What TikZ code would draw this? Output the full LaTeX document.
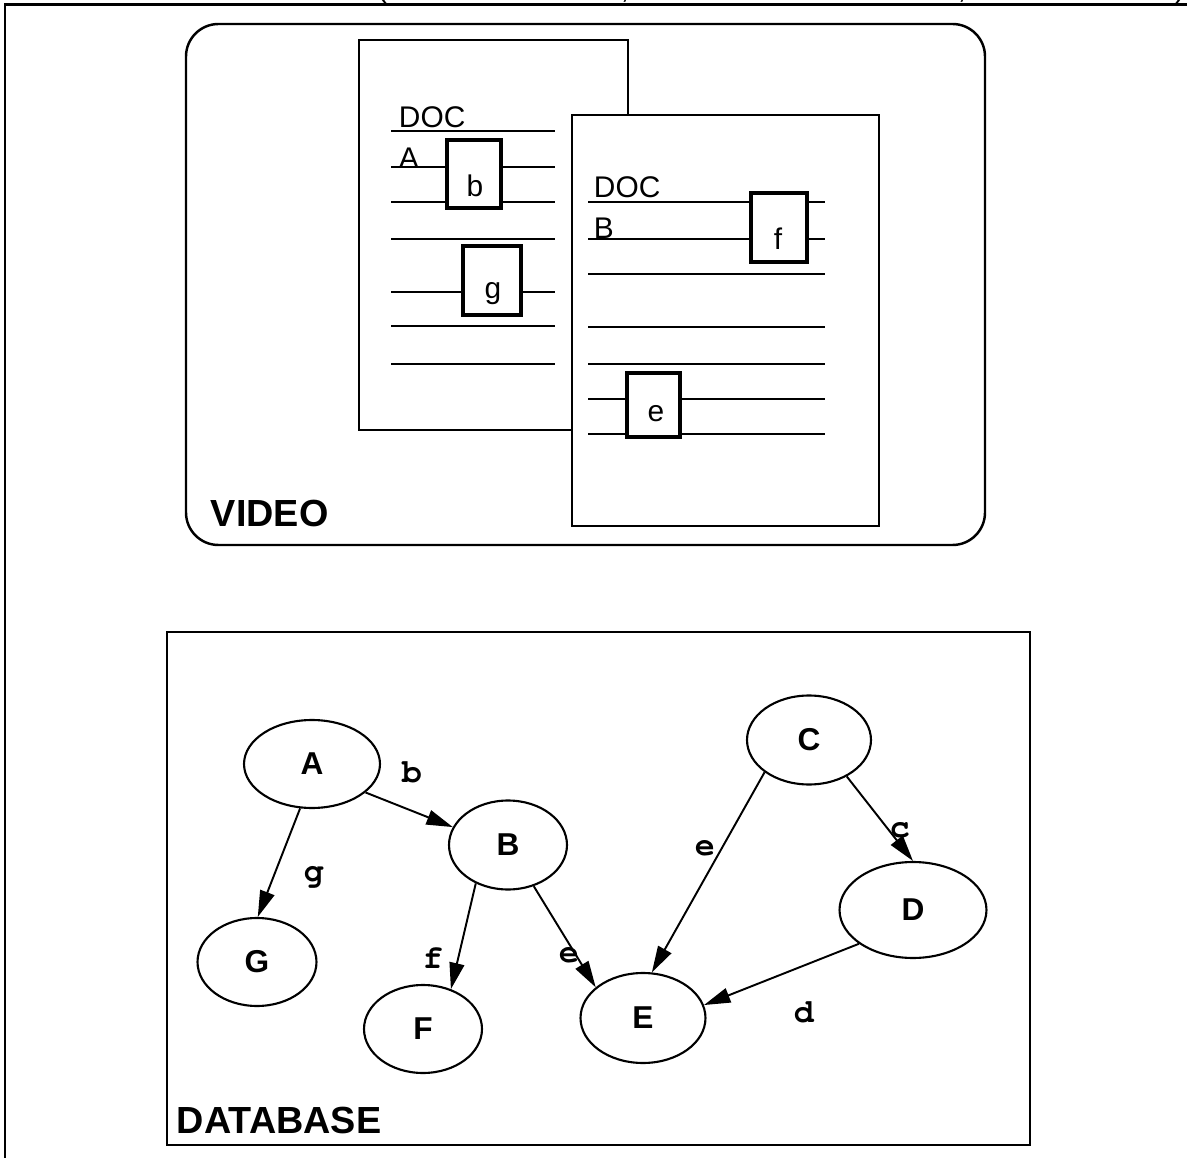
\documentclass[tikz,border=0pt]{standalone}
\usepackage{fontspec}
\setmainfont{Liberation Sans}
\usetikzlibrary{arrows.meta,shapes.geometric}

\tikzset{
  outerframe/.style={line width=1.7pt},
  docpage/.style={draw, fill=white, line width=1.1pt},
  docline/.style={line width=1.1pt},
  tagbox/.style={draw, fill=white, line width=2.6pt},
  doctext/.style={font=\fontsize{17}{17}\selectfont, inner sep=0pt},
  areaname/.style={font=\bfseries\fontsize{21.5}{22}\selectfont, inner sep=0pt},
  obj/.style={ellipse, draw, line width=1.2pt, inner sep=0pt,
    font=\bfseries\fontsize{18}{18}\selectfont},
  elab/.style={font=\fontencoding{OT1}\fontfamily{pcr}\fontseries{b}\fontshape{n}\fontsize{19}{19}\selectfont, inner sep=0pt},
}

\begin{document}
\begin{tikzpicture}[x=0.02cm, y=-0.02cm, >={Triangle[length=15pt,width=8.5pt]}, line width=1.1pt]
  \useasboundingbox (0,0) rectangle (1187,1158);
  % frame, caption above it is cut off by the page
  \draw[outerframe] (1187,5) -- (5,5) -- (5,1160);
  \node[doctext, anchor=base] (capopen) at (382,-2) {(};
  \node[doctext, anchor=base] (capsepa) at (625,-1) {,};
  \node[doctext, anchor=base] (capsepb) at (962,-1) {,};
  \node[doctext, anchor=base] (capclose) at (1180,-2) {)};

  % video part
  \draw[line width=1.4pt, rounded corners=0.65cm] (186,24) rectangle (985,545);
  \node[areaname, anchor=base west] (video) at (210,527) {VIDEO};

  % document A
  \draw[docpage] (359,40) rectangle (628,430);
  \foreach \y in {131,167,202,239,292,326,364}
    \draw[docline] (391,\y) -- (555,\y);
  \node[doctext, anchor=base west] (docA) at (398,128) {DOC};
  \node[doctext, anchor=base west] (nameA) at (398,169) {A};
  \draw[tagbox] (447,140) rectangle (501,208);
  \node[doctext, anchor=base] (tagb) at (475,197) {b};
  \draw[tagbox] (463,246) rectangle (521,315);
  \node[doctext, anchor=base] (tagg) at (493,299) {g};

  % document B
  \draw[docpage] (572,115) rectangle (879,526);
  \foreach \y in {202,239,274,327,364,399,434}
    \draw[docline] (588,\y) -- (825,\y);
  \node[doctext, anchor=base west] (docB) at (593,198) {DOC};
  \node[doctext, anchor=base west] (nameB) at (593,239) {B};
  \draw[tagbox] (751,193) rectangle (807,262);
  \node[doctext, anchor=base] (tagf) at (778,250) {f};
  \draw[tagbox] (627,373) rectangle (680,437);
  \node[doctext, anchor=base] (tage) at (656,422) {e};

  % database part
  \draw[line width=1.4pt] (167,632) rectangle (1030,1145);
  \node[areaname, anchor=base west] (database) at (176,1133) {DATABASE};

  \node[obj, minimum width=2.72cm, minimum height=1.76cm] (A) at (312,764) {A};
  \node[obj, minimum width=2.36cm, minimum height=1.78cm] (B) at (508,845) {B};
  \node[obj, minimum width=2.48cm, minimum height=1.78cm] (C) at (809,740) {C};
  \node[obj, minimum width=2.94cm, minimum height=1.92cm] (D) at (913,910) {D};
  \node[obj, minimum width=2.50cm, minimum height=1.80cm] (E) at (643,1018) {E};
  \node[obj, minimum width=2.36cm, minimum height=1.76cm] (F) at (423,1029) {F};
  \node[obj, minimum width=2.38cm, minimum height=1.76cm] (G) at (257,962) {G};

  \draw[->] (A.332) -- (B.162);
  \draw[->] (A.255) -- (G.89);
  \draw[->] (B.230) -- (F.55);
  \draw[->] (B.302) -- (E.147);
  \draw[->] (C.216) -- (E.79);
  \draw[->] (C.316) -- (D.90);
  \draw[->] (D.212) -- (E.12);

  \node[elab] (lb) at (412,772) {b};
  \node[elab] (lg) at (314,876) {g};
  \node[elab] (lf) at (433,958) {f};
  \node[elab] (le1) at (569,955) {e};
  \node[elab] (le2) at (705,848) {e};
  \node[elab] (lc) at (900,830) {c};
  \node[elab] (ld) at (804,1012) {d};
\end{tikzpicture}
\end{document}
